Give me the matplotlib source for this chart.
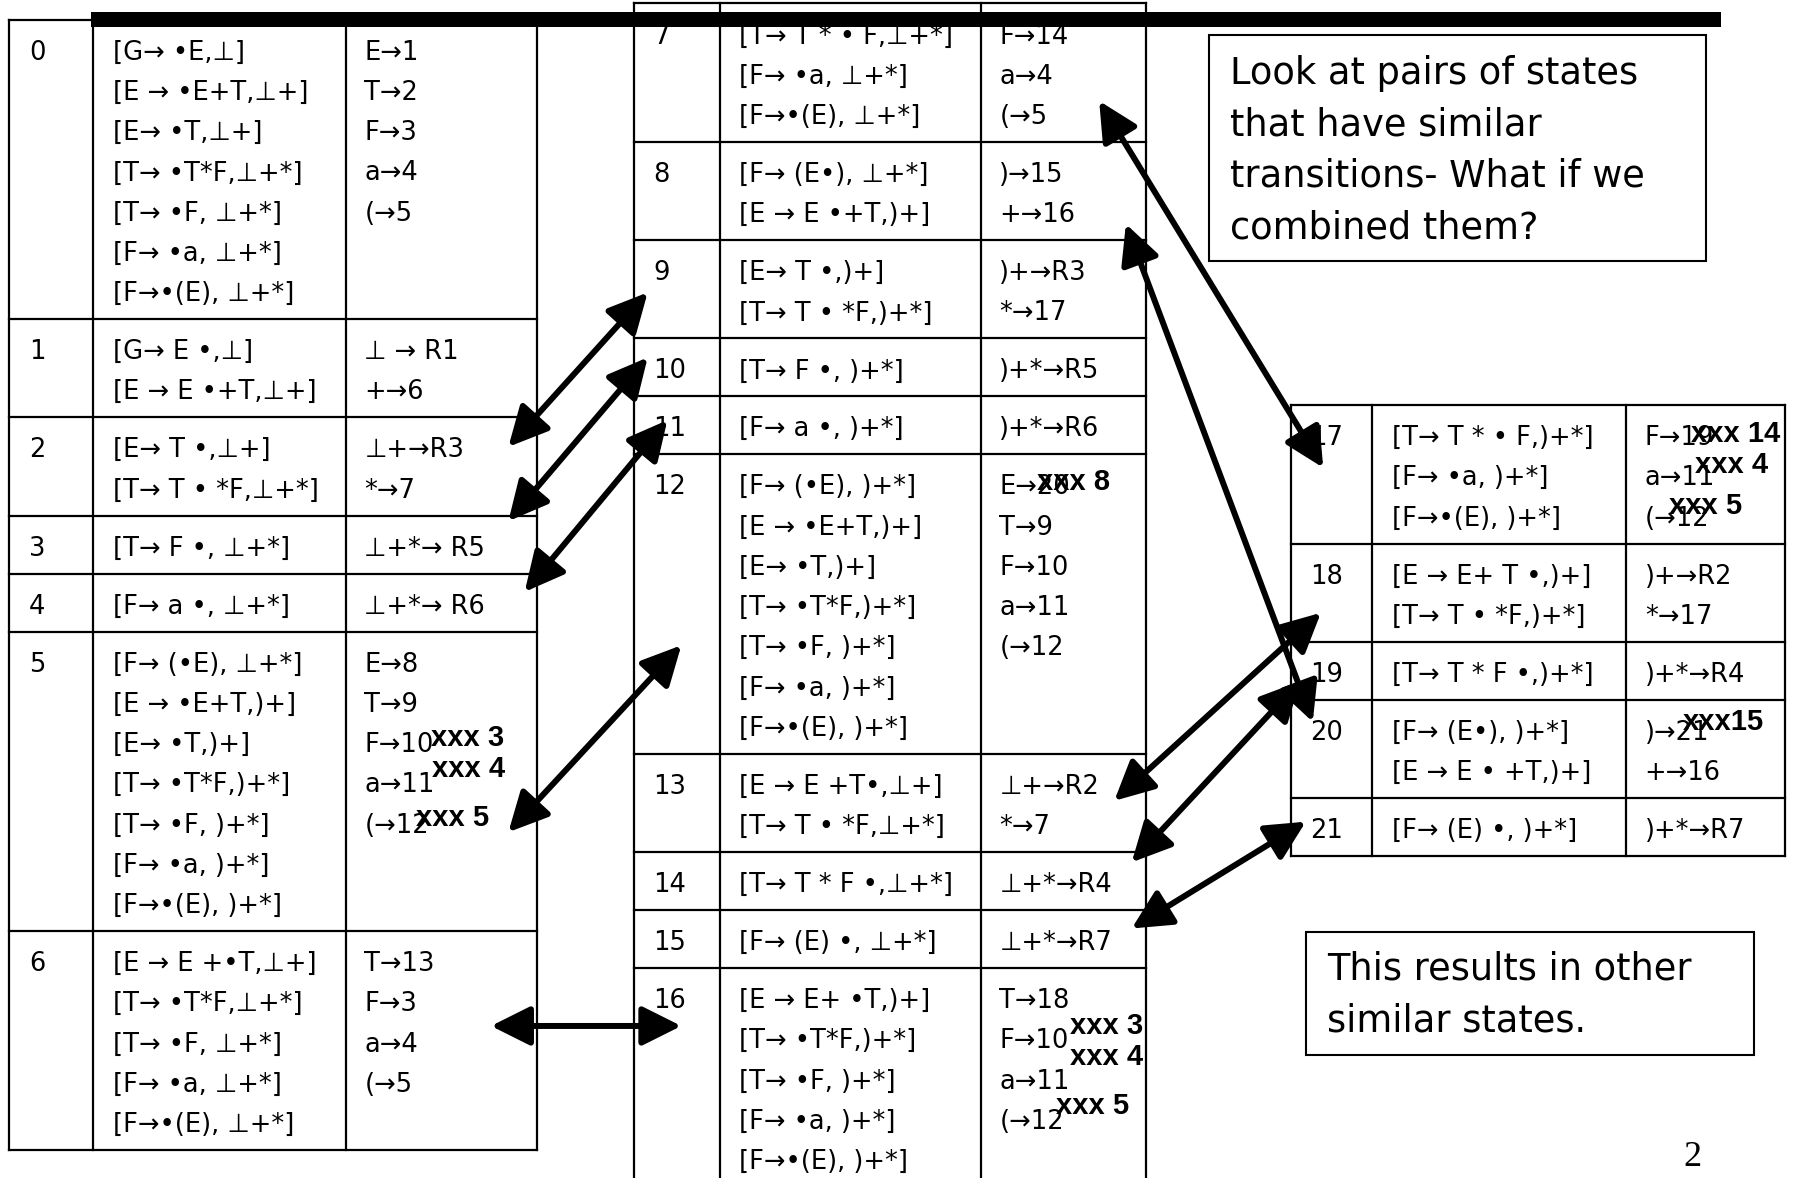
import matplotlib.pyplot as plt
from matplotlib.patches import Rectangle, FancyArrowPatch

plt.rcParams['font.family'] = ['DejaVu Sans', 'Noto Sans CJK JP']

# LR(1) states: items and transitions
items = [
    ["[G→ •E,⊥]", "[E → •E+T,⊥+]", "[E→ •T,⊥+]", "[T→ •T*F,⊥+*]",
     "[T→ •F, ⊥+*]", "[F→ •a, ⊥+*]", "[F→•(E), ⊥+*]"],
    ["[G→ E •,⊥]", "[E → E •+T,⊥+]"],
    ["[E→ T •,⊥+]", "[T→ T • *F,⊥+*]"],
    ["[T→ F •, ⊥+*]"],
    ["[F→ a •, ⊥+*]"],
    ["[F→ (•E), ⊥+*]", "[E → •E+T,)+]", "[E→ •T,)+]", "[T→ •T*F,)+*]",
     "[T→ •F, )+*]", "[F→ •a, )+*]", "[F→•(E), )+*]"],
    ["[E → E +•T,⊥+]", "[T→ •T*F,⊥+*]", "[T→ •F, ⊥+*]", "[F→ •a, ⊥+*]",
     "[F→•(E), ⊥+*]"],
    ["[T→ T * • F,⊥+*]", "[F→ •a, ⊥+*]", "[F→•(E), ⊥+*]"],
    ["[F→ (E•), ⊥+*]", "[E → E •+T,)+]"],
    ["[E→ T •,)+]", "[T→ T • *F,)+*]"],
    ["[T→ F •, )+*]"],
    ["[F→ a •, )+*]"],
    ["[F→ (•E), )+*]", "[E → •E+T,)+]", "[E→ •T,)+]", "[T→ •T*F,)+*]",
     "[T→ •F, )+*]", "[F→ •a, )+*]", "[F→•(E), )+*]"],
    ["[E → E +T•,⊥+]", "[T→ T • *F,⊥+*]"],
    ["[T→ T * F •,⊥+*]"],
    ["[F→ (E) •, ⊥+*]"],
    ["[E → E+ •T,)+]", "[T→ •T*F,)+*]", "[T→ •F, )+*]", "[F→ •a, )+*]",
     "[F→•(E), )+*]"],
    ["[T→ T * • F,)+*]", "[F→ •a, )+*]", "[F→•(E), )+*]"],
    ["[E → E+ T •,)+]", "[T→ T • *F,)+*]"],
    ["[T→ T * F •,)+*]"],
    ["[F→ (E•), )+*]", "[E → E • +T,)+]"],
    ["[F→ (E) •, )+*]"],
]
trans = [
    ["E→1", "T→2", "F→3", "a→4", "(→5"],
    ["⊥ → R1", "+→6"],
    ["⊥+→R3", "*→7"],
    ["⊥+*→ R5"],
    ["⊥+*→ R6"],
    ["E→8", "T→9", "F→10", "a→11", "(→12"],
    ["T→13", "F→3", "a→4", "(→5"],
    ["F→14", "a→4", "(→5"],
    [")→15", "+→16"],
    [")+→R3", "*→17"],
    [")+*→R5"],
    [")+*→R6"],
    ["E→20", "T→9", "F→10", "a→11", "(→12"],
    ["⊥+→R2", "*→7"],
    ["⊥+*→R4"],
    ["⊥+*→R7"],
    ["T→18", "F→10", "a→11", "(→12"],
    ["F→19", "a→11", "(→12"],
    [")+→R2", "*→17"],
    [")+*→R4"],
    [")→21", "+→16"],
    [")+*→R7"],
]
table_states = [list(range(0, 7)), list(range(7, 17)), list(range(17, 22))]

# bold "xxx" edits written over transitions: (state, line, text)
overlays = [(5, 2, "xxx 3"), (5, 3, "xxx 4"), (5, 4, "xxx 5"),
            (12, 0, "xxx 8"),
            (16, 1, "xxx 3"), (16, 2, "xxx 4"), (16, 3, "xxx 5"),
            (17, 0, "xxx 14"), (17, 1, "xxx 4"), (17, 2, "xxx 5"),
            (20, 0, "xxx15")]

arrow_pairs = [(2, 9), (3, 10), (4, 11), (5, 12), (6, 16),
               (7, 17), (8, 20), (13, 18), (14, 19), (15, 21)]

note1 = ["Look at pairs of states", "that have similar",
         "transitions- What if we", "combined them?"]
note2 = ["This results in other", "similar states."]
page_no = "2"

# ---- layout (in pixels of a 1568 x 1015 canvas) ----
W, H = 1568, 1015
cols = [[8, 80, 298, 463], [546, 620, 845, 987], [1112, 1182, 1401, 1538]]
tops = [17, 3, 349]
PAD, LH = 15.3, 34.67
ov_pos = [(371, 636), (372, 663), (358, 705), (893, 415), (922, 884),
          (922, 911), (910, 953), (1457, 374), (1460, 401), (1438, 436),
          (1450, 622)]
arrow_xy = [((438, 385), (558, 252)), ((438, 449), (558, 308)),
            ((452, 510), (575, 362)), ((438, 717), (587, 556)),
            ((423, 884), (587, 884)), ((947, 87), (1140, 403)),
            ((970, 193), (1131, 622)), ((960, 690), (1138, 528)),
            ((975, 743), (1120, 587)), ((975, 800), (1125, 708))]

fig = plt.figure(figsize=(18.2, 11.78), dpi=100)
ax = fig.add_axes([0, 0, 1, 1])
ax.set_xlim(0, W)
ax.set_ylim(H, 0)
ax.axis('off')

FS = 18.5
lw_tab = 1.6
for t, sts in enumerate(table_states):
    c = cols[t]
    y = tops[t]
    ax.plot([c[0], c[-1]], [y, y], color='black', lw=lw_tab)
    for s in sts:
        n = len(items[s])
        h = PAD + LH * n
        for k in range(n):
            yb = y + 26.5 + k * LH + 8
            if k == 0:
                ax.text(c[0] + 17, yb, str(s), fontsize=FS, va='baseline')
            ax.text(c[1] + 17, yb, items[s][k], fontsize=FS, va='baseline')
            if k < len(trans[s]):
                ax.text(c[2] + 16, yb, trans[s][k], fontsize=FS,
                        va='baseline')
        y += h
        ax.plot([c[0], c[-1]], [y, y], color='black', lw=lw_tab)
    for x in c:
        ax.plot([x, x], [tops[t], y], color='black', lw=lw_tab)

for (s, k, txt), (x, y) in zip(overlays, ov_pos):
    ax.text(x, y, txt, fontsize=21, fontweight='bold', va='center',
            family=['Liberation Sans', 'DejaVu Sans'])

# heavy title rule
ax.add_patch(Rectangle((78, 10), 1405, 13, facecolor='black',
                       edgecolor='none', zorder=5))

for (a, b), (p, q) in zip(arrow_pairs, arrow_xy):
    ax.add_patch(FancyArrowPatch(p, q,
                 arrowstyle='<|-|>,head_length=24,head_width=12',
                 mutation_scale=1, lw=4.3, color='black',
                 shrinkA=0, shrinkB=0, zorder=6))

ax.add_patch(Rectangle((1042, 30), 428, 195, facecolor='white',
                       edgecolor='black', lw=1.5, zorder=3))
for i, line in enumerate(note1):
    ax.text(1060, 63 + i * 44.5, line, fontsize=26.5, va='center', zorder=4)

ax.add_patch(Rectangle((1125, 803), 386, 106, facecolor='white',
                       edgecolor='black', lw=1.5, zorder=3))
for i, line in enumerate(note2):
    ax.text(1143, 835 + i * 45, line, fontsize=26.5, va='center', zorder=4)

ax.text(1458, 997, page_no, fontsize=26, ha='center', va='center',
        family=['Liberation Serif', 'DejaVu Serif'])

plt.savefig("out.png", dpi=100)
